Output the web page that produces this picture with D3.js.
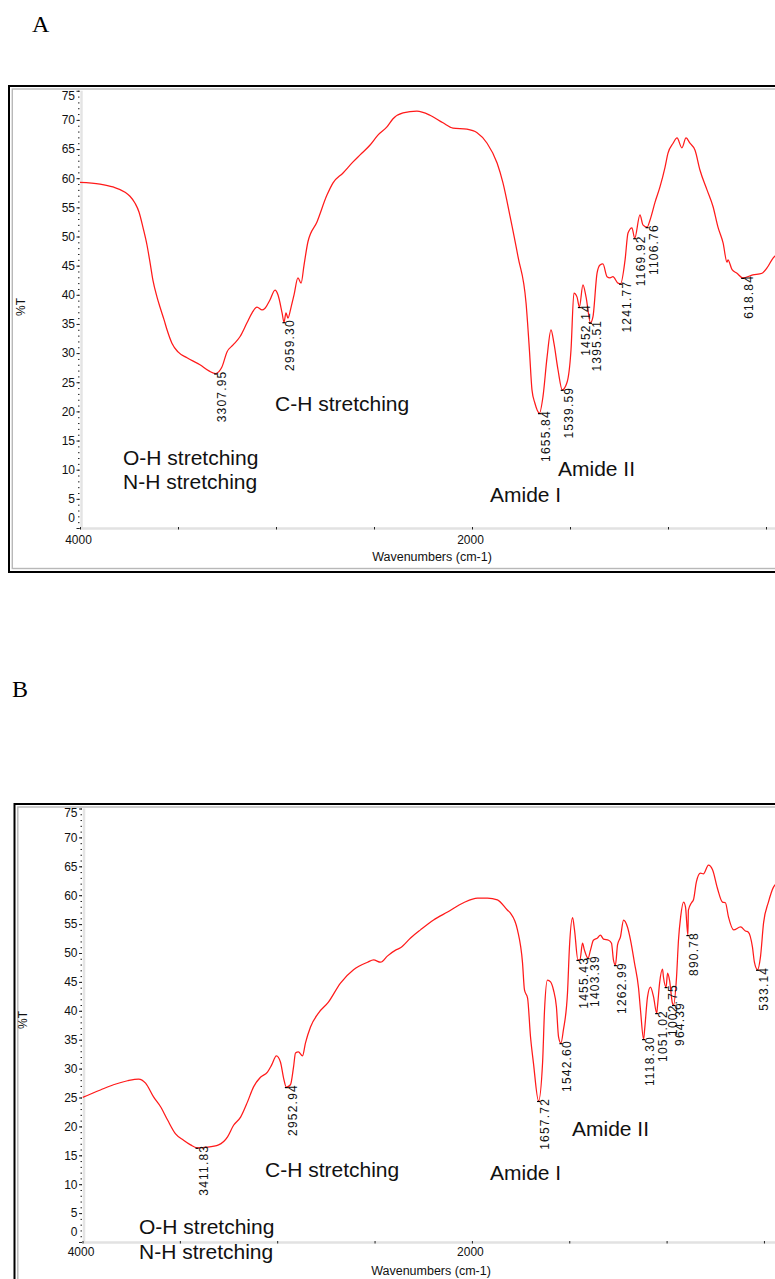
<!DOCTYPE html>
<html>
<head>
<meta charset="utf-8">
<script src="https://cdn.jsdelivr.net/npm/d3@7"></script>
<style>
  html, body { margin: 0; padding: 0; background: #fff; }
  svg { display: block; }
</style>
</head>
<body>
<svg id="chart" width="775" height="1279"></svg>
<script>
// ---------- Spectrum A ----------
const wavenumbersA = [
  4000, 3898, 3832, 3770, 3745, 3719, 3699, 3679, 3658, 3643, 3628, 3607, 3592, 3571, 3556, 3531, 3500,
  3454, 3388, 3340,
  3307.95, 3276, 3250, 3219, 3184, 3148, 3122, 3097, 3071, 3056, 3031, 3005, 2990, 2969, 2959.30, 2949,
  2939, 2923, 2908, 2888, 2872, 2857, 2837, 2791, 2740, 2709, 2658, 2607, 2571, 2520, 2480, 2434, 2403,
  2352, 2281, 2214, 2148, 2097, 2026, 1974, 1923, 1872, 1842, 1806, 1765, 1724, 1707, 1694, 1679,
  1655.84, 1638, 1617, 1597, 1582, 1561, 1539.59, 1515, 1495, 1480, 1464, 1452.14, 1434, 1418, 1395.51,
  1383, 1362, 1347, 1332, 1311, 1296, 1281, 1255, 1241.77, 1219, 1204, 1184, 1169.92, 1143, 1128,
  1106.76, 1092, 1066, 1041, 1015, 1000, 974, 954, 929, 908, 888, 862, 837, 801, 770, 745, 719, 699,
  694, 673, 648, 618.84, 567, 520, 495, 464, 449
];
const transmittanceA = [
  59.3, 59.0, 58.5, 57.6, 56.9, 55.7, 54.2, 51.6, 48.5, 45.6, 42.5, 39.6, 37.9, 35.7, 34.0, 31.7, 30.2,
  29.2, 28.0, 26.9,
  26.5, 27.6, 30.2, 31.4, 32.8, 35.2, 36.9, 37.9, 37.4, 37.7, 39.1, 40.8, 40.0, 36.9, 35.3, 36.9,
  36.0, 37.9, 40.0, 42.9, 42.0, 45.1, 49.1, 52.5, 57.1, 59.2, 60.9, 62.8, 64.0, 65.7, 67.4, 68.8, 70.2,
  71.2, 71.5, 70.8, 69.5, 68.6, 68.4, 67.8, 66.0, 62.6, 59.2, 53.5, 46.5, 38.5, 30.5, 23.7, 21.4,
  19.7, 22.5, 29.3, 34.0, 31.7, 27.1, 23.7, 25.0, 30.5, 40.3, 39.6, 37.9, 41.7, 39.6, 35.2,
  36.2, 43.7, 45.1, 45.3, 43.1, 42.9, 43.1, 42.0, 41.9, 46.0, 50.6, 51.5, 49.7, 53.7, 52.0,
  51.6, 52.8, 55.9, 58.5, 61.9, 64.3, 66.0, 66.9, 65.2, 66.9, 66.0, 64.8, 61.4, 58.0, 55.1, 51.6, 48.9, 45.6,
  46.0, 44.3, 43.7, 42.9, 43.4, 43.7, 44.6, 46.3, 46.8
];
const peaksA = [3307.95, 2959.30, 1655.84, 1539.59, 1452.14, 1395.51, 1241.77, 1169.92, 1106.76, 618.84];

// ---------- Spectrum B ----------
const wavenumbersB = [
  4000, 3908, 3841, 3769, 3712, 3676, 3635, 3599, 3563, 3522, 3481, 3445, 3411.83, 3358, 3301, 3255,
  3224, 3188, 3153, 3122, 3086, 3050, 3029, 3004, 2983, 2968, 2952.94, 2932, 2916, 2906, 2891, 2870,
  2855, 2829, 2788, 2737, 2675, 2608, 2536, 2505, 2469, 2433, 2392, 2367, 2315, 2264, 2197, 2125, 2043,
  1971, 1920, 1869, 1817, 1802, 1766, 1740, 1730, 1714, 1699, 1684, 1657.72, 1637, 1627, 1612, 1596,
  1581, 1566, 1555, 1542.60, 1530, 1509, 1499, 1483, 1473, 1455.43, 1445, 1432, 1422, 1403.39, 1391,
  1376, 1355, 1340, 1324, 1298, 1283, 1273, 1262.99, 1252, 1237, 1221, 1201, 1185, 1165, 1144, 1134,
  1118.30, 1113, 1098, 1083, 1067, 1051.02, 1047, 1036, 1021, 1016, 1002.75, 995, 985, 970, 964.39,
  949, 939, 928, 913, 903, 890.78, 888, 872, 862, 847, 826, 811, 785, 764, 739, 713, 698, 682, 656,
  620, 595, 580, 559, 549, 533.14, 518, 502, 477, 451, 440
];
const transmittanceB = [
  25.0, 26.3, 27.2, 27.9, 28.2, 27.5, 25.1, 23.4, 21.1, 18.7, 17.6, 16.8, 16.3, 16.4, 16.8, 18.2,
  20.2, 21.6, 24.2, 26.8, 28.5, 29.4, 30.6, 32.2, 31.1, 28.5, 26.8, 27.2, 30.3, 32.7, 32.9, 32.2,
  34.4, 37.2, 39.6, 41.5, 44.8, 47.1, 48.4, 48.8, 48.4, 49.5, 50.5, 50.9, 52.6, 54.0, 55.7, 57.1, 58.7,
  59.5, 59.5, 59.2, 57.4, 56.9, 54.0, 48.3, 43.6, 42.2, 35.5, 31.0, 24.4, 31.0, 40.1, 45.3, 45.0,
  43.6, 40.7, 35.5, 34.4, 36.7, 43.1, 51.0, 56.1, 54.0, 48.8, 48.8, 51.7, 50.5, 49.1, 50.5,
  52.2, 52.6, 53.1, 52.4, 52.2, 51.7, 48.8, 47.9, 51.4, 52.8, 55.7, 54.5, 52.2, 48.3, 43.9, 40.1,
  35.1, 36.7, 42.4, 44.1, 42.4, 39.6, 40.7, 44.8, 47.2, 45.8, 44.1, 46.5, 45.3, 41.3, 41.0,
  45.8, 52.2, 56.2, 58.8, 58.0, 53.1, 57.4, 58.7, 59.2, 62.3, 63.8, 63.7, 65.2, 64.4, 61.2, 58.8, 58.7, 56.2, 54.0,
  54.5, 53.8, 53.6, 51.0, 48.4, 47.1, 49.3, 55.2, 58.8, 61.4, 61.9
];
const peaksB = [3411.83, 2952.94, 1657.72, 1542.60, 1455.43, 1403.39, 1262.99, 1118.30, 1051.02,
  1002.75, 964.39, 890.78, 533.14];

// ---------- Axes and annotation text ----------
const yTickValues = d3.range(0, 76, 5);
const yMinorValues = d3.range(0, 76, 1);
const xTickValues = d3.range(4000, 400, -500);
const xLabelledTicks = [4000, 2000];
const xAxisTitle = "Wavenumbers (cm-1)";
const yAxisTitle = "%T";
const bandTexts = ["O-H stretching", "N-H stretching", "C-H stretching", "Amide I", "Amide II"];
const panelNames = ["A", "B"];

const svg = d3.select("#chart");
const SANS = "'Liberation Sans', Arial, sans-serif";

function drawPanel(p) {
  const g = svg.append("g");
  const x = d3.scaleLinear().domain([4000, 400]).range([p.left, p.left + 3600 * p.pxPerWn]);
  const y = d3.scaleLinear().domain([0, 75]).range([p.bottom, p.bottom - 75 * p.pxPerT]);

  // panel letter
  g.append("text").attr("x", p.nameX).attr("y", p.nameY)
    .attr("font-family", "'Liberation Serif', 'Times New Roman', serif")
    .attr("font-size", 24).attr("fill", "#000").text(p.name);

  // frame: black outer border and light inner border
  g.append("rect").attr("x", p.frame.x).attr("y", p.frame.y)
    .attr("width", p.frame.w).attr("height", p.frame.h)
    .attr("fill", "none").attr("stroke", "#000").attr("stroke-width", 2);
  g.append("rect").attr("x", p.frame.x + 3.3).attr("y", p.frame.y + 3)
    .attr("width", p.frame.w).attr("height", p.frame.h - 6.5)
    .attr("fill", "none").attr("stroke", "#b8b8b8").attr("stroke-width", 1.4);

  const topY = y(75);

  // light axis bands
  g.append("line").attr("x1", p.left + 1.5).attr("x2", p.left + 1.5)
    .attr("y1", topY).attr("y2", p.bottom)
    .attr("stroke", "#e4e4e4").attr("stroke-width", 2.5);
  g.append("line").attr("x1", p.left).attr("x2", 800)
    .attr("y1", p.bottom + 0.5).attr("y2", p.bottom + 0.5)
    .attr("stroke", "#e2e2e2").attr("stroke-width", 2.5);

  // minor y ticks (dotted look)
  const yMinor = d3.axisLeft(y).tickValues(yMinorValues).tickSize(1.5).tickFormat("");
  g.append("g").attr("transform", `translate(${p.left - 0.5},0)`).call(yMinor)
    .call(s => s.select(".domain").remove())
    .call(s => s.selectAll("line").attr("stroke", "#222").attr("stroke-width", 1));

  // major y ticks with labels
  const yAxis = d3.axisLeft(y).tickValues(yTickValues).tickSize(3).tickPadding(1.5);
  g.append("g").attr("transform", `translate(${p.left - 0.5},0)`).call(yAxis)
    .call(s => s.select(".domain").remove())
    .call(s => s.selectAll("line").attr("stroke", "#222"))
    .call(s => s.selectAll("text")
      .attr("font-family", SANS).attr("font-size", 12).attr("fill", "#111")
      .attr("y", d => d === 0 ? -10 : d === 75 ? 4.5 : 0));

  // x ticks
  const xAxis = d3.axisBottom(x).tickValues(xTickValues).tickSize(2.5).tickPadding(p.xPad)
    .tickFormat(d => xLabelledTicks.includes(d) ? d3.format("d")(d) : "");
  g.append("g").attr("transform", `translate(0,${p.bottom - 1})`).call(xAxis)
    .call(s => s.select(".domain").remove())
    .call(s => s.selectAll("line").attr("stroke", "#222"))
    .call(s => s.selectAll("text")
      .attr("font-family", SANS).attr("font-size", 12).attr("fill", "#111").attr("dx", -2));

  // axis titles
  g.append("text").attr("x", p.xTitle[0]).attr("y", p.xTitle[1])
    .attr("text-anchor", "middle").attr("font-family", SANS).attr("font-size", 12.5)
    .attr("fill", "#111").text(xAxisTitle);
  g.append("text")
    .attr("transform", `translate(${p.yTitle[0]},${p.yTitle[1]}) rotate(-90)`)
    .attr("text-anchor", "middle").attr("dominant-baseline", "central")
    .attr("font-family", SANS).attr("font-size", 12).attr("fill", "#111").text(yAxisTitle);

  // spectrum
  const clipId = "clip-" + p.name;
  g.append("clipPath").attr("id", clipId).append("rect")
    .attr("x", p.left).attr("y", p.frame.y + 4).attr("width", 800).attr("height", p.bottom - p.frame.y);
  const pts = p.wn.map((w, i) => [w, p.t[i]]);
  const line = d3.line().x(d => x(d[0])).y(d => y(d[1])).curve(d3.curveMonotoneX);
  g.append("path").datum(pts).attr("d", line).attr("clip-path", `url(#${clipId})`)
    .attr("fill", "none").attr("stroke", "#ff1a1a").attr("stroke-width", 1.25)
    .attr("stroke-linejoin", "round");

  // peak markers and labels
  p.peaks.forEach(w => {
    const i = p.wn.indexOf(w);
    const px = x(w), py = y(p.t[i]);
    g.append("line").attr("x1", px - 1.5).attr("x2", px + 1.5).attr("y1", py + 0.5).attr("y2", py + 0.5)
      .attr("stroke", "#000").attr("stroke-width", 1.2);
    g.append("text")
      .attr("transform", `translate(${px + 10.5},${py - 3}) rotate(-90)`)
      .attr("text-anchor", "end")
      .attr("font-family", SANS).attr("font-size", 12).attr("letter-spacing", 1.2)
      .attr("fill", "#111").text(d3.format(".2f")(w));
  });

  // band assignments
  p.bands.forEach((b, i) => {
    g.append("text").attr("x", b[0]).attr("y", b[1])
      .attr("font-family", SANS).attr("font-size", 21).attr("fill", "#111")
      .text(bandTexts[i]);
  });
}

drawPanel({
  name: panelNames[0], nameX: 32, nameY: 32,
  wn: wavenumbersA, t: transmittanceA, peaks: peaksA,
  left: 80, bottom: 528, pxPerWn: 0.196, pxPerT: 5.83, xPad: 5.5,
  frame: { x: 9, y: 86, w: 800, h: 486 },
  xTitle: [432, 561], yTitle: [20.5, 307],
  bands: [[123, 465], [123, 489], [275, 411], [490, 502], [558, 476]]
});

drawPanel({
  name: panelNames[1], nameX: 12, nameY: 697,
  wn: wavenumbersB, t: transmittanceB, peaks: peaksB,
  left: 82.5, bottom: 1242, pxPerWn: 0.1947, pxPerT: 5.78, xPad: 3.5,
  frame: { x: 14.5, y: 804, w: 800, h: 600 },
  xTitle: [431, 1275], yTitle: [23, 1020],
  bands: [[139, 1234], [139, 1259], [265, 1177], [490, 1180], [572, 1136]]
});
</script>
</body>
</html>
